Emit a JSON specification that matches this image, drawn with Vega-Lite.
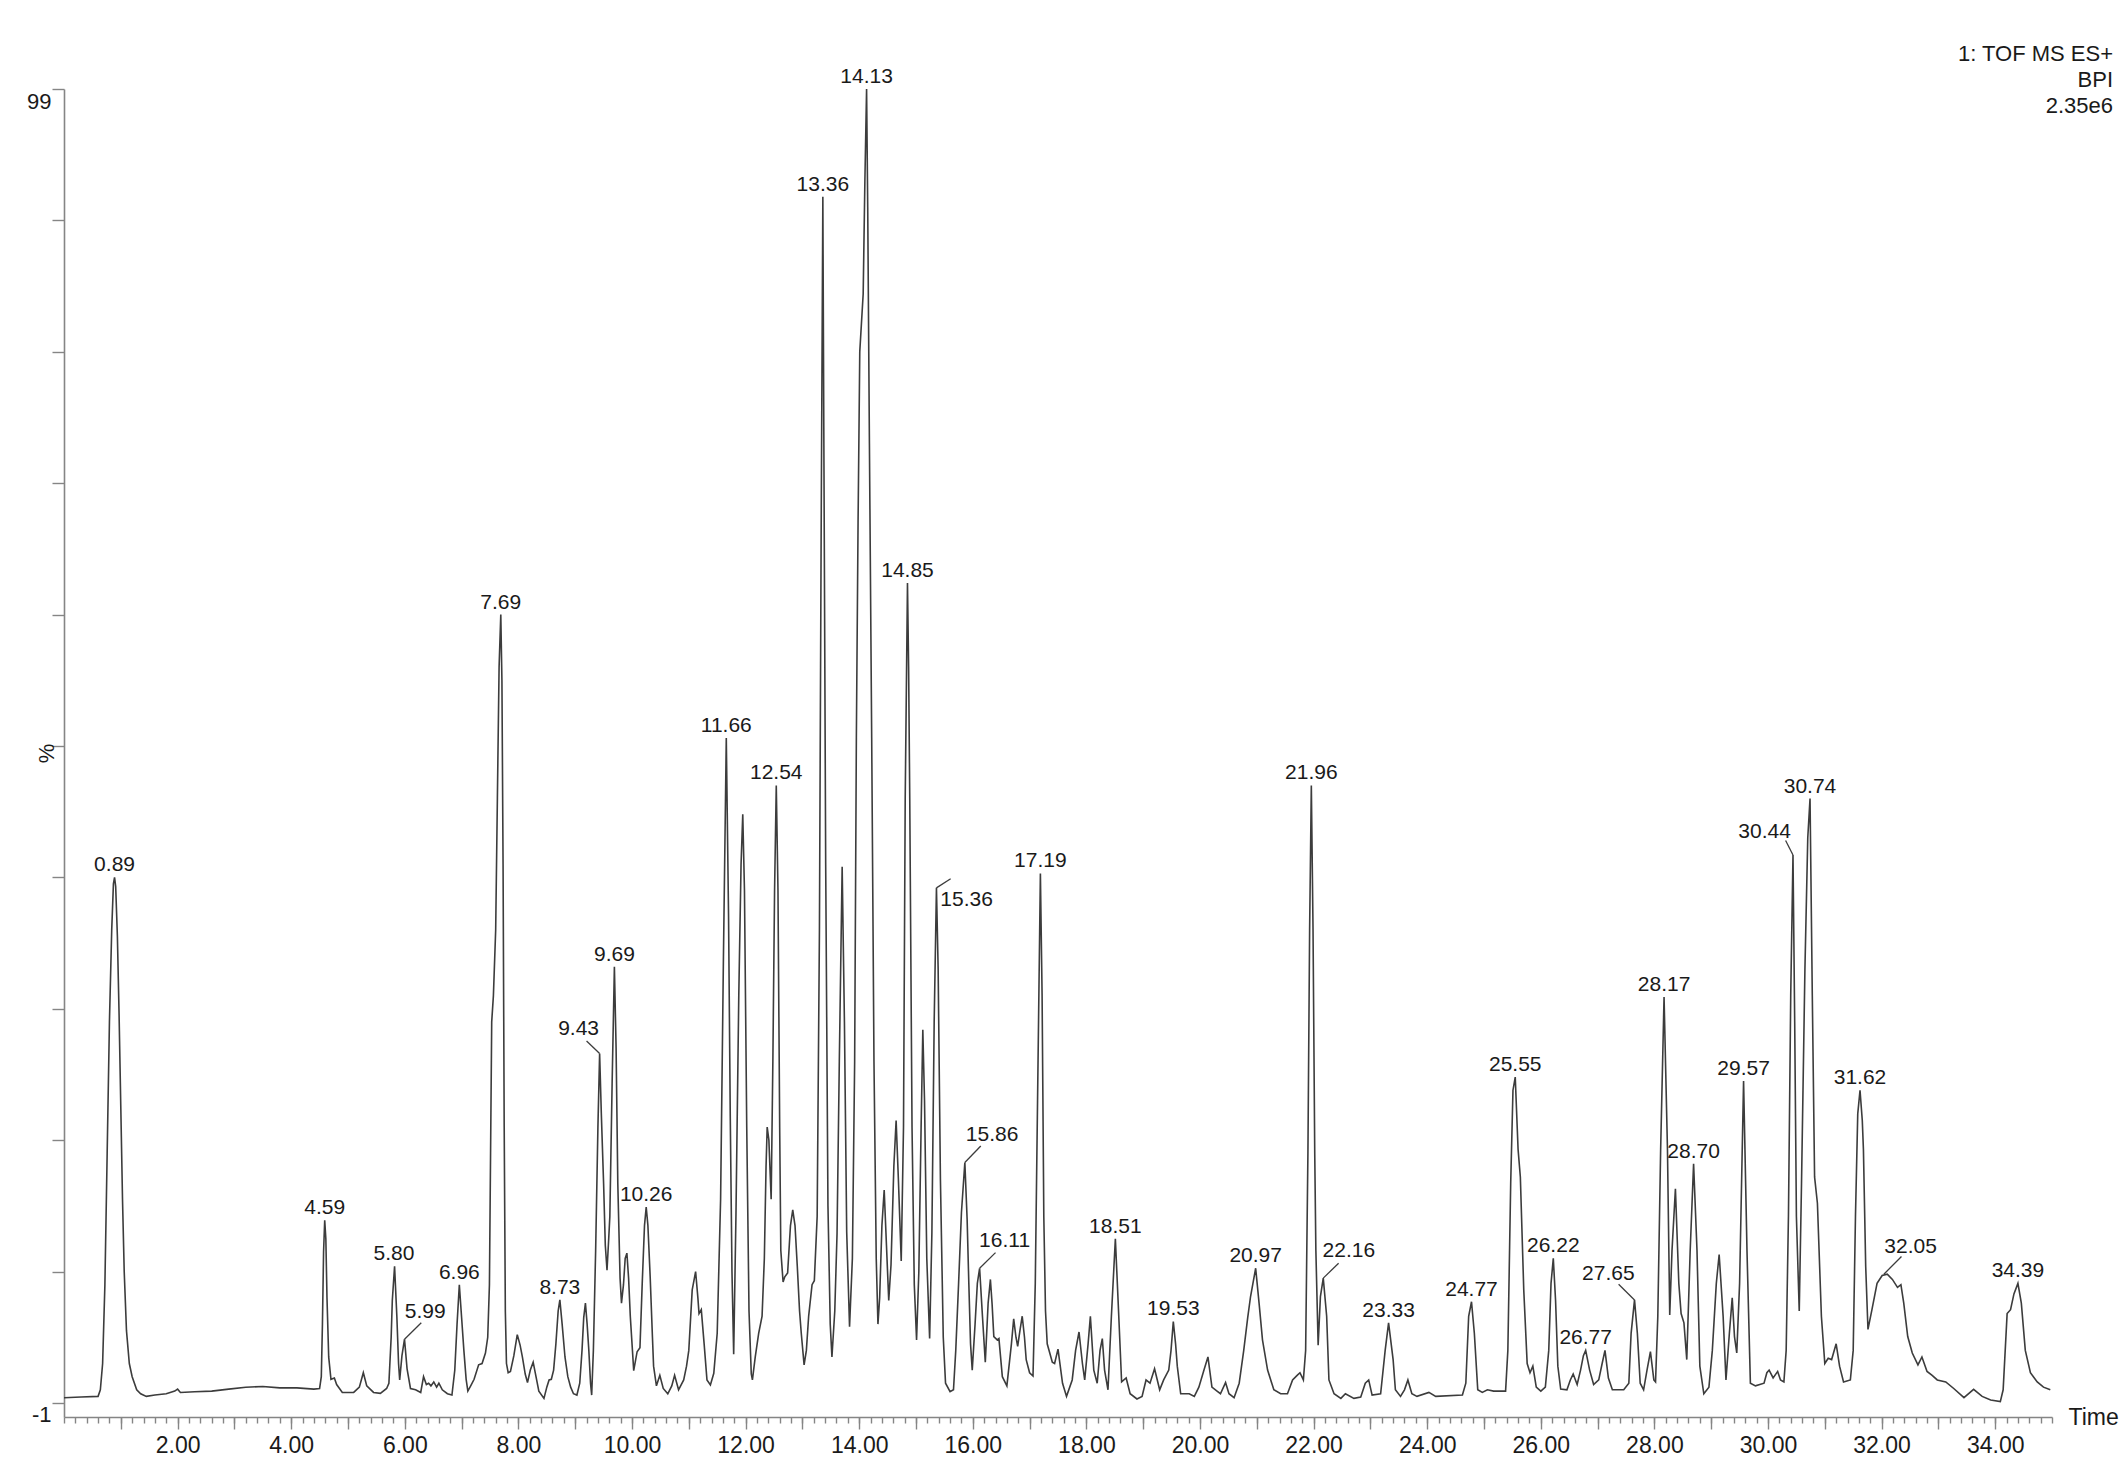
{
"$schema": "https://vega.github.io/schema/vega-lite/v6.json",
"width": 1988, "height": 1328,
"autosize": {"type": "none"},
"padding": {"left": 64, "top": 89, "right": 76, "bottom": 43},
"background": "white",
"config": {"view": {"stroke": null}, "font": "Liberation Sans"},
"title": {"text": ["1: TOF MS ES+", "BPI", "2.35e6"], "anchor": "end", "frame": "group", "orient": "top", "align": "right", "baseline": "top", "offset": 0, "dx": 61, "dy": 52, "fontSize": 22, "fontWeight": "normal", "lineHeight": 26, "font": "Liberation Sans", "color": "#1a1a1a"},
"datasets": {
"trace": [
{"t":0.00,"i":-0.6},{"t":0.30,"i":-0.55},{"t":0.60,"i":-0.5},{"t":0.64,"i":0.0},{"t":0.68,"i":2.0},{"t":0.72,"i":8.0},{"t":0.76,"i":18.0},{"t":0.80,"i":28.0},{"t":0.84,"i":35.0},{"t":0.87,"i":38.5},{"t":0.89,"i":39.0},{"t":0.91,"i":38.3},{"t":0.94,"i":34.5},{"t":0.97,"i":28.5},{"t":1.00,"i":21.5},{"t":1.03,"i":14.5},{"t":1.06,"i":9.0},{"t":1.10,"i":4.5},{"t":1.15,"i":2.0},{"t":1.20,"i":1.0},{"t":1.28,"i":0.0},{"t":1.35,"i":-0.3},{"t":1.45,"i":-0.5},{"t":1.60,"i":-0.4},{"t":1.80,"i":-0.3},{"t":1.95,"i":-0.1},{"t":2.00,"i":0.05},{"t":2.05,"i":-0.2},{"t":2.30,"i":-0.15},{"t":2.60,"i":-0.1},{"t":2.90,"i":0.05},{"t":3.20,"i":0.2},{"t":3.50,"i":0.25},{"t":3.80,"i":0.15},{"t":4.10,"i":0.15},{"t":4.40,"i":0.05},{"t":4.50,"i":0.1},
{"t":4.53,"i":1.0},{"t":4.55,"i":5.0},{"t":4.57,"i":10.5},{"t":4.59,"i":12.9},{"t":4.61,"i":11.5},{"t":4.63,"i":7.0},{"t":4.66,"i":2.5},{"t":4.70,"i":0.8},{"t":4.76,"i":0.9},{"t":4.80,"i":0.4},{"t":4.90,"i":-0.2},{"t":5.10,"i":-0.2},{"t":5.20,"i":0.2},{"t":5.27,"i":1.3},{"t":5.33,"i":0.3},{"t":5.45,"i":-0.2},{"t":5.57,"i":-0.27},{"t":5.68,"i":0.1},{"t":5.72,"i":0.5},{"t":5.76,"i":4.0},{"t":5.78,"i":6.8},{"t":5.82,"i":9.4},{"t":5.86,"i":5.6},{"t":5.89,"i":2.0},{"t":5.91,"i":0.75},{"t":5.95,"i":2.6},{"t":5.995,"i":3.85},{"t":6.04,"i":1.6},{"t":6.10,"i":0.1},{"t":6.19,"i":0.0},{"t":6.28,"i":-0.2},{"t":6.33,"i":1.0},{"t":6.38,"i":0.4},{"t":6.42,"i":0.5},{"t":6.46,"i":0.3},{"t":6.51,"i":0.6},{"t":6.56,"i":0.2},{"t":6.60,"i":0.5},{"t":6.66,"i":0.0},{"t":6.75,"i":-0.3},{"t":6.83,"i":-0.4},{"t":6.88,"i":1.5},{"t":6.92,"i":5.0},{"t":6.96,"i":8.0},{"t":7.00,"i":5.5},{"t":7.04,"i":3.0},{"t":7.08,"i":0.8},{"t":7.11,"i":-0.1},{"t":7.16,"i":0.3},{"t":7.22,"i":0.8},{"t":7.30,"i":1.9},{"t":7.36,"i":2.0},{"t":7.42,"i":2.8},{"t":7.46,"i":4.0},{"t":7.49,"i":8.0},{"t":7.51,"i":18.0},{"t":7.53,"i":28.0},{"t":7.56,"i":30.0},{"t":7.60,"i":35.0},{"t":7.63,"i":45.0},{"t":7.66,"i":55.0},{"t":7.69,"i":59.0},{"t":7.71,"i":54.0},{"t":7.73,"i":40.0},{"t":7.75,"i":20.0},{"t":7.77,"i":6.0},{"t":7.79,"i":2.0},{"t":7.82,"i":1.3},{"t":7.86,"i":1.4},{"t":7.92,"i":2.6},{"t":7.98,"i":4.2},{"t":8.03,"i":3.4},{"t":8.07,"i":2.5},{"t":8.12,"i":1.2},{"t":8.16,"i":0.55},{"t":8.21,"i":1.5},{"t":8.26,"i":2.1},{"t":8.31,"i":1.0},{"t":8.36,"i":-0.1},{"t":8.45,"i":-0.65},{"t":8.50,"i":0.2},{"t":8.54,"i":0.75},{"t":8.58,"i":0.8},{"t":8.62,"i":1.5},{"t":8.66,"i":3.5},{"t":8.70,"i":6.0},{"t":8.73,"i":6.84},{"t":8.77,"i":5.0},{"t":8.82,"i":2.5},{"t":8.87,"i":1.0},{"t":8.92,"i":0.2},{"t":8.97,"i":-0.3},{"t":9.03,"i":-0.4},{"t":9.08,"i":0.5},{"t":9.12,"i":3.0},{"t":9.15,"i":5.5},{"t":9.18,"i":6.6},{"t":9.21,"i":5.0},{"t":9.24,"i":3.0},{"t":9.27,"i":0.5},{"t":9.29,"i":-0.4},{"t":9.32,"i":3.0},{"t":9.36,"i":10.6},{"t":9.40,"i":20.0},{"t":9.43,"i":25.6},{"t":9.46,"i":21.0},{"t":9.50,"i":15.7},{"t":9.53,"i":11.0},{"t":9.56,"i":9.1},{"t":9.59,"i":11.5},{"t":9.61,"i":13.2},{"t":9.65,"i":23.3},{"t":9.69,"i":32.2},{"t":9.72,"i":26.0},{"t":9.75,"i":15.7},{"t":9.79,"i":8.5},{"t":9.815,"i":6.6},{"t":9.85,"i":8.0},{"t":9.88,"i":10.0},{"t":9.91,"i":10.4},{"t":9.94,"i":8.5},{"t":9.97,"i":5.6},{"t":10.03,"i":1.46},{"t":10.09,"i":2.9},{"t":10.14,"i":3.2},{"t":10.18,"i":8.1},{"t":10.22,"i":12.5},{"t":10.25,"i":13.9},{"t":10.28,"i":12.5},{"t":10.32,"i":8.6},{"t":10.36,"i":4.0},{"t":10.38,"i":1.8},{"t":10.43,"i":0.3},{"t":10.49,"i":1.1},{"t":10.55,"i":0.1},{"t":10.63,"i":-0.3},{"t":10.70,"i":0.3},{"t":10.75,"i":1.1},{"t":10.82,"i":0.0},{"t":10.91,"i":0.75},{"t":10.96,"i":1.8},{"t":11.00,"i":3.0},{"t":11.06,"i":7.6},{"t":11.12,"i":9.0},{"t":11.16,"i":7.0},{"t":11.18,"i":5.8},{"t":11.22,"i":6.1},{"t":11.27,"i":3.5},{"t":11.32,"i":0.75},{"t":11.38,"i":0.37},{"t":11.44,"i":1.26},{"t":11.50,"i":4.3},{"t":11.56,"i":14.5},{"t":11.61,"i":33.0},{"t":11.66,"i":49.6},{"t":11.70,"i":36.0},{"t":11.73,"i":20.8},{"t":11.76,"i":9.0},{"t":11.79,"i":2.7},{"t":11.83,"i":13.2},{"t":11.88,"i":30.0},{"t":11.92,"i":40.0},{"t":11.95,"i":43.8},{"t":11.98,"i":38.0},{"t":12.02,"i":20.0},{"t":12.06,"i":6.0},{"t":12.10,"i":1.2},{"t":12.12,"i":0.75},{"t":12.17,"i":2.5},{"t":12.23,"i":4.3},{"t":12.29,"i":5.6},{"t":12.33,"i":10.0},{"t":12.36,"i":17.0},{"t":12.38,"i":20.0},{"t":12.41,"i":19.0},{"t":12.45,"i":14.5},{"t":12.48,"i":25.0},{"t":12.51,"i":38.0},{"t":12.54,"i":46.0},{"t":12.57,"i":38.0},{"t":12.60,"i":20.0},{"t":12.62,"i":10.6},{"t":12.66,"i":8.2},{"t":12.69,"i":8.6},{"t":12.74,"i":8.9},{"t":12.79,"i":12.5},{"t":12.83,"i":13.7},{"t":12.87,"i":12.5},{"t":12.91,"i":9.4},{"t":12.95,"i":6.0},{"t":12.98,"i":4.3},{"t":13.03,"i":1.9},{"t":13.07,"i":3.0},{"t":13.11,"i":5.6},{"t":13.17,"i":8.0},{"t":13.21,"i":8.3},{"t":13.26,"i":13.2},{"t":13.30,"i":35.0},{"t":13.33,"i":65.0},{"t":13.36,"i":90.8},{"t":13.38,"i":70.0},{"t":13.41,"i":40.0},{"t":13.45,"i":14.0},{"t":13.49,"i":5.0},{"t":13.52,"i":2.5},{"t":13.57,"i":6.0},{"t":13.61,"i":11.9},{"t":13.65,"i":25.0},{"t":13.70,"i":39.8},{"t":13.74,"i":28.0},{"t":13.78,"i":12.0},{"t":13.83,"i":4.8},{"t":13.88,"i":10.0},{"t":13.92,"i":25.0},{"t":13.95,"i":49.6},{"t":13.98,"i":66.0},{"t":14.01,"i":79.0},{"t":14.07,"i":83.4},{"t":14.10,"i":92.0},{"t":14.13,"i":99.0},{"t":14.15,"i":90.0},{"t":14.18,"i":72.0},{"t":14.22,"i":49.6},{"t":14.26,"i":25.0},{"t":14.30,"i":10.0},{"t":14.33,"i":5.0},{"t":14.36,"i":7.0},{"t":14.40,"i":12.5},{"t":14.44,"i":15.2},{"t":14.48,"i":11.0},{"t":14.52,"i":6.8},{"t":14.56,"i":9.5},{"t":14.61,"i":17.0},{"t":14.65,"i":20.5},{"t":14.69,"i":16.0},{"t":14.74,"i":9.8},{"t":14.78,"i":20.0},{"t":14.81,"i":45.0},{"t":14.85,"i":61.4},{"t":14.87,"i":55.0},{"t":14.89,"i":45.0},{"t":14.93,"i":20.0},{"t":14.97,"i":8.0},{"t":15.01,"i":3.8},{"t":15.05,"i":9.0},{"t":15.09,"i":20.0},{"t":15.12,"i":27.4},{"t":15.15,"i":22.0},{"t":15.19,"i":10.0},{"t":15.24,"i":3.9},{"t":15.28,"i":12.0},{"t":15.32,"i":28.0},{"t":15.36,"i":38.2},{"t":15.39,"i":32.0},{"t":15.43,"i":16.0},{"t":15.48,"i":4.0},{"t":15.52,"i":0.5},{"t":15.60,"i":-0.14},{"t":15.66,"i":0.0},{"t":15.70,"i":3.0},{"t":15.75,"i":8.1},{"t":15.80,"i":13.5},{"t":15.86,"i":17.3},{"t":15.90,"i":13.0},{"t":15.93,"i":8.1},{"t":15.96,"i":3.5},{"t":15.99,"i":1.5},{"t":16.04,"i":5.0},{"t":16.08,"i":8.1},{"t":16.12,"i":9.25},{"t":16.17,"i":5.6},{"t":16.22,"i":2.1},{"t":16.27,"i":6.6},{"t":16.31,"i":8.4},{"t":16.34,"i":6.5},{"t":16.37,"i":4.05},{"t":16.43,"i":3.8},{"t":16.46,"i":3.9},{"t":16.52,"i":1.0},{"t":16.60,"i":0.3},{"t":16.68,"i":3.5},{"t":16.72,"i":5.4},{"t":16.76,"i":4.0},{"t":16.79,"i":3.3},{"t":16.83,"i":4.5},{"t":16.87,"i":5.6},{"t":16.91,"i":4.0},{"t":16.94,"i":2.3},{"t":17.00,"i":1.3},{"t":17.06,"i":1.05},{"t":17.10,"i":8.1},{"t":17.14,"i":22.0},{"t":17.19,"i":39.3},{"t":17.22,"i":30.0},{"t":17.25,"i":13.2},{"t":17.28,"i":6.0},{"t":17.31,"i":3.5},{"t":17.40,"i":2.1},{"t":17.44,"i":2.0},{"t":17.50,"i":3.1},{"t":17.58,"i":0.5},{"t":17.65,"i":-0.5},{"t":17.75,"i":0.75},{"t":17.81,"i":3.0},{"t":17.87,"i":4.4},{"t":17.93,"i":2.0},{"t":17.97,"i":0.75},{"t":18.03,"i":3.5},{"t":18.07,"i":5.6},{"t":18.13,"i":1.5},{"t":18.19,"i":0.5},{"t":18.24,"i":3.0},{"t":18.28,"i":3.9},{"t":18.32,"i":1.5},{"t":18.38,"i":0.0},{"t":18.44,"i":5.6},{"t":18.51,"i":11.5},{"t":18.57,"i":5.6},{"t":18.62,"i":0.6},{"t":18.70,"i":0.9},{"t":18.77,"i":-0.3},{"t":18.89,"i":-0.7},{"t":18.98,"i":-0.5},{"t":19.05,"i":0.75},{"t":19.12,"i":0.5},{"t":19.20,"i":1.6},{"t":19.29,"i":0.0},{"t":19.36,"i":0.75},{"t":19.45,"i":1.5},{"t":19.49,"i":3.0},{"t":19.53,"i":5.2},{"t":19.57,"i":3.5},{"t":19.60,"i":1.8},{"t":19.66,"i":-0.3},{"t":19.81,"i":-0.3},{"t":19.90,"i":-0.5},{"t":19.98,"i":0.2},{"t":20.07,"i":1.5},{"t":20.14,"i":2.5},{"t":20.21,"i":0.2},{"t":20.30,"i":-0.1},{"t":20.36,"i":-0.3},{"t":20.45,"i":0.55},{"t":20.51,"i":-0.3},{"t":20.60,"i":-0.6},{"t":20.69,"i":0.5},{"t":20.77,"i":3.0},{"t":20.84,"i":5.5},{"t":20.89,"i":7.1},{"t":20.98,"i":9.25},{"t":21.04,"i":6.6},{"t":21.10,"i":3.8},{"t":21.19,"i":1.5},{"t":21.30,"i":0.0},{"t":21.42,"i":-0.3},{"t":21.54,"i":-0.3},{"t":21.63,"i":0.75},{"t":21.71,"i":1.1},{"t":21.76,"i":1.3},{"t":21.82,"i":0.75},{"t":21.86,"i":3.0},{"t":21.90,"i":18.0},{"t":21.93,"i":35.0},{"t":21.96,"i":46.0},{"t":21.99,"i":35.0},{"t":22.02,"i":18.0},{"t":22.04,"i":10.6},{"t":22.08,"i":3.4},{"t":22.12,"i":7.1},{"t":22.17,"i":8.5},{"t":22.23,"i":5.6},{"t":22.27,"i":0.75},{"t":22.36,"i":-0.3},{"t":22.48,"i":-0.65},{"t":22.56,"i":-0.3},{"t":22.71,"i":-0.65},{"t":22.83,"i":-0.55},{"t":22.91,"i":0.5},{"t":22.97,"i":0.75},{"t":23.03,"i":-0.4},{"t":23.18,"i":-0.3},{"t":23.26,"i":3.0},{"t":23.32,"i":5.1},{"t":23.40,"i":2.3},{"t":23.44,"i":0.0},{"t":23.53,"i":-0.5},{"t":23.60,"i":0.0},{"t":23.66,"i":0.75},{"t":23.73,"i":-0.3},{"t":23.82,"i":-0.5},{"t":24.03,"i":-0.2},{"t":24.15,"i":-0.5},{"t":24.62,"i":-0.4},{"t":24.68,"i":0.5},{"t":24.73,"i":5.6},{"t":24.78,"i":6.7},{"t":24.83,"i":4.3},{"t":24.89,"i":0.0},{"t":24.97,"i":-0.2},{"t":25.06,"i":0.0},{"t":25.17,"i":-0.1},{"t":25.38,"i":-0.1},{"t":25.42,"i":3.0},{"t":25.47,"i":15.7},{"t":25.51,"i":22.8},{"t":25.55,"i":23.8},{"t":25.60,"i":18.3},{"t":25.64,"i":16.2},{"t":25.70,"i":7.6},{"t":25.76,"i":2.0},{"t":25.81,"i":1.3},{"t":25.86,"i":1.8},{"t":25.92,"i":0.2},{"t":26.00,"i":-0.1},{"t":26.08,"i":0.2},{"t":26.14,"i":3.0},{"t":26.18,"i":8.1},{"t":26.22,"i":10.0},{"t":26.26,"i":6.8},{"t":26.30,"i":1.8},{"t":26.35,"i":0.05},{"t":26.46,"i":0.0},{"t":26.52,"i":0.75},{"t":26.57,"i":1.2},{"t":26.64,"i":0.4},{"t":26.70,"i":1.5},{"t":26.75,"i":2.6},{"t":26.79,"i":3.0},{"t":26.86,"i":1.5},{"t":26.93,"i":0.4},{"t":27.02,"i":0.75},{"t":27.08,"i":2.0},{"t":27.13,"i":3.0},{"t":27.19,"i":0.9},{"t":27.26,"i":0.0},{"t":27.46,"i":0.0},{"t":27.55,"i":0.5},{"t":27.59,"i":4.3},{"t":27.65,"i":6.84},{"t":27.70,"i":4.3},{"t":27.75,"i":0.5},{"t":27.81,"i":0.0},{"t":27.87,"i":1.5},{"t":27.93,"i":2.9},{"t":27.99,"i":0.75},{"t":28.02,"i":0.6},{"t":28.06,"i":5.6},{"t":28.11,"i":18.3},{"t":28.17,"i":29.9},{"t":28.23,"i":18.3},{"t":28.27,"i":5.7},{"t":28.31,"i":10.6},{"t":28.37,"i":15.3},{"t":28.43,"i":8.1},{"t":28.47,"i":5.8},{"t":28.52,"i":5.1},{"t":28.57,"i":2.3},{"t":28.63,"i":10.6},{"t":28.69,"i":17.2},{"t":28.75,"i":10.6},{"t":28.80,"i":1.8},{"t":28.87,"i":-0.3},{"t":28.96,"i":0.2},{"t":29.02,"i":3.0},{"t":29.09,"i":8.1},{"t":29.14,"i":10.3},{"t":29.21,"i":5.6},{"t":29.26,"i":0.75},{"t":29.32,"i":4.3},{"t":29.37,"i":7.0},{"t":29.41,"i":4.05},{"t":29.45,"i":2.8},{"t":29.50,"i":8.1},{"t":29.57,"i":23.5},{"t":29.63,"i":10.6},{"t":29.69,"i":0.5},{"t":29.78,"i":0.3},{"t":29.93,"i":0.5},{"t":29.98,"i":1.3},{"t":30.02,"i":1.5},{"t":30.09,"i":0.9},{"t":30.17,"i":1.4},{"t":30.22,"i":0.75},{"t":30.28,"i":0.6},{"t":30.32,"i":3.0},{"t":30.36,"i":13.2},{"t":30.40,"i":30.0},{"t":30.44,"i":40.7},{"t":30.47,"i":28.0},{"t":30.50,"i":13.2},{"t":30.55,"i":6.0},{"t":30.59,"i":15.7},{"t":30.65,"i":32.0},{"t":30.70,"i":42.0},{"t":30.74,"i":45.0},{"t":30.78,"i":30.0},{"t":30.82,"i":16.2},{"t":30.87,"i":14.2},{"t":30.94,"i":5.6},{"t":31.00,"i":2.0},{"t":31.06,"i":2.4},{"t":31.12,"i":2.3},{"t":31.20,"i":3.5},{"t":31.26,"i":1.8},{"t":31.33,"i":0.6},{"t":31.45,"i":0.75},{"t":31.50,"i":3.0},{"t":31.54,"i":13.2},{"t":31.58,"i":21.0},{"t":31.62,"i":22.8},{"t":31.66,"i":20.5},{"t":31.68,"i":18.3},{"t":31.72,"i":9.4},{"t":31.76,"i":4.6},{"t":31.83,"i":6.1},{"t":31.92,"i":8.1},{"t":32.01,"i":8.7},{"t":32.10,"i":8.8},{"t":32.19,"i":8.4},{"t":32.28,"i":7.8},{"t":32.34,"i":8.0},{"t":32.39,"i":6.6},{"t":32.46,"i":4.05},{"t":32.54,"i":2.8},{"t":32.64,"i":1.9},{"t":32.71,"i":2.5},{"t":32.80,"i":1.4},{"t":32.89,"i":1.1},{"t":32.98,"i":0.75},{"t":33.13,"i":0.6},{"t":33.27,"i":0.1},{"t":33.45,"i":-0.6},{"t":33.62,"i":0.04},{"t":33.77,"i":-0.5},{"t":33.92,"i":-0.77},{"t":34.09,"i":-0.9},{"t":34.14,"i":0.0},{"t":34.21,"i":5.8},{"t":34.27,"i":6.1},{"t":34.33,"i":7.3},{"t":34.40,"i":8.1},{"t":34.46,"i":6.6},{"t":34.53,"i":3.0},{"t":34.62,"i":1.3},{"t":34.74,"i":0.6},{"t":34.85,"i":0.2},{"t":34.97,"i":0.0}
],
"peaks": [
{"label":"0.89","t":0.89,"i":39.0,"lt":0.89,"li":39.0},
{"label":"4.59","t":4.59,"i":12.9,"lt":4.59,"li":12.9},
{"label":"5.80","t":5.81,"i":9.4,"lt":5.81,"li":9.4},
{"label":"5.99","t":5.995,"i":3.85,"lt":6.36,"li":5.0,"et":6.29,"ei":5.1},
{"label":"6.96","t":6.96,"i":8.0,"lt":6.96,"li":8.0},
{"label":"7.69","t":7.69,"i":59.0,"lt":7.69,"li":59.0},
{"label":"8.73","t":8.73,"i":6.84,"lt":8.73,"li":6.84},
{"label":"9.43","t":9.43,"i":25.6,"lt":9.06,"li":26.55,"et":9.2,"ei":26.55},
{"label":"9.69","t":9.69,"i":32.2,"lt":9.69,"li":32.2},
{"label":"10.26","t":10.25,"i":13.9,"lt":10.25,"li":13.9},
{"label":"11.66","t":11.66,"i":49.6,"lt":11.66,"li":49.6},
{"label":"12.54","t":12.54,"i":46.0,"lt":12.54,"li":46.0},
{"label":"13.36","t":13.36,"i":90.8,"lt":13.36,"li":90.8},
{"label":"14.13","t":14.13,"i":99.0,"lt":14.13,"li":99.0},
{"label":"14.85","t":14.85,"i":61.4,"lt":14.85,"li":61.4},
{"label":"15.36","t":15.36,"i":38.2,"lt":15.89,"li":36.4,"et":15.61,"ei":38.9},
{"label":"15.86","t":15.86,"i":17.3,"lt":16.34,"li":18.45,"et":16.14,"ei":18.56},
{"label":"16.11","t":16.12,"i":9.25,"lt":16.56,"li":10.4,"et":16.4,"ei":10.44},
{"label":"17.19","t":17.19,"i":39.3,"lt":17.19,"li":39.3},
{"label":"18.51","t":18.51,"i":11.5,"lt":18.51,"li":11.5},
{"label":"19.53","t":19.53,"i":5.2,"lt":19.53,"li":5.2},
{"label":"20.97","t":20.98,"i":9.25,"lt":20.98,"li":9.25},
{"label":"21.96","t":21.96,"i":46.0,"lt":21.96,"li":46.0},
{"label":"22.16","t":22.17,"i":8.5,"lt":22.62,"li":9.65,"et":22.44,"ei":9.63},
{"label":"23.33","t":23.32,"i":5.1,"lt":23.32,"li":5.1},
{"label":"24.77","t":24.78,"i":6.7,"lt":24.78,"li":6.7},
{"label":"25.55","t":25.55,"i":23.8,"lt":25.55,"li":23.8},
{"label":"26.22","t":26.22,"i":10.0,"lt":26.22,"li":10.0},
{"label":"26.77","t":26.79,"i":3.0,"lt":26.79,"li":3.0},
{"label":"27.65","t":27.65,"i":6.84,"lt":27.19,"li":7.9,"et":27.37,"ei":8.03},
{"label":"28.17","t":28.17,"i":29.9,"lt":28.17,"li":29.9},
{"label":"28.70","t":28.69,"i":17.2,"lt":28.69,"li":17.2},
{"label":"29.57","t":29.57,"i":23.5,"lt":29.57,"li":23.5},
{"label":"30.44","t":30.44,"i":40.7,"lt":29.94,"li":41.55,"et":30.31,"ei":41.8},
{"label":"30.74","t":30.74,"i":45.0,"lt":30.74,"li":45.0},
{"label":"31.62","t":31.62,"i":22.8,"lt":31.62,"li":22.8},
{"label":"32.05","t":32.04,"i":8.8,"lt":32.51,"li":9.95,"et":32.35,"ei":10.14},
{"label":"34.39","t":34.4,"i":8.1,"lt":34.4,"li":8.1}
]
},
"layer": [
{
"data": {"name": "trace"},
"mark": {"type": "line", "color": "#3c3c3c", "strokeWidth": 1.6, "interpolate": "linear", "clip": true},
"encoding": {
"x": {"field": "t", "type": "quantitative", "scale": {"domain": [0, 35], "nice": false, "zero": false},
  "axis": {"orient": "bottom", "values": [1,2,3,4,5,6,7,8,9,10,11,12,13,14,15,16,17,18,19,20,21,22,23,24,25,26,27,28,29,30,31,32,33,34],
    "labelExpr": "datum.value % 2 == 0 ? format(datum.value, '.2f') : ''",
    "grid": false, "domain": true, "domainColor": "#858585", "domainWidth": 1.6, "ticks": true, "tickSize": 12, "tickColor": "#858585", "tickWidth": 1.4,
    "labelFontSize": 23, "labelFont": "Liberation Sans", "labelColor": "#1a1a1a", "labelPadding": 5, "labelOverlap": false, "labelFlush": false,
    "title": "Time", "titleFont": "Liberation Sans", "titleFontSize": 23, "titleFontWeight": "normal", "titleColor": "#1a1a1a", "titleX": 2004, "titleY": 0, "titleAlign": "left", "titleBaseline": "middle", "titleAngle": 0}},
"y": {"field": "i", "type": "quantitative", "scale": {"domain": [-2.07, 99], "nice": false, "zero": false},
  "axis": {"orient": "left", "values": [-1,9,19,29,39,49,59,69,79,89,99],
    "labelExpr": "datum.value == 99 ? '99' : (datum.value == -1 ? '-1' : '')",
    "grid": false, "domain": true, "domainColor": "#858585", "domainWidth": 1.6, "tickSize": 12, "tickColor": "#858585", "tickWidth": 1.4,
    "labelFontSize": 22, "labelFont": "Liberation Sans", "labelColor": "#1a1a1a", "labelBaseline": "top", "labelAlign": "right", "labelPadding": 1, "labelOffset": 2, "labelOverlap": false, "labelFlush": false,
    "title": "%", "titleFont": "Liberation Sans", "titleFontSize": 22, "titleFontWeight": "normal", "titleColor": "#1a1a1a", "titleAngle": -90, "titleX": -18, "titleY": 664, "titleAlign": "center", "titleBaseline": "middle"}}
}
},
{
"data": {"name": "peaks"},
"transform": [{"filter": "isValid(datum.et)"}],
"mark": {"type": "rule", "color": "#3c3c3c", "strokeWidth": 1.3},
"encoding": {
"x": {"field": "t", "type": "quantitative", "scale": {"domain": [0, 35], "nice": false, "zero": false},
  "axis": {"orient": "bottom", "tickCount": 175, "labels": false, "domain": false, "grid": false, "ticks": true, "tickSize": 6, "tickColor": "#858585", "tickWidth": 1.4, "title": null}},
"y": {"field": "i", "type": "quantitative", "scale": {"domain": [-2.07, 99], "nice": false, "zero": false}, "axis": null},
"x2": {"field": "et"},
"y2": {"field": "ei"}
}
},
{
"data": {"name": "peaks"},
"mark": {"type": "text", "font": "Liberation Sans", "fontSize": 21, "color": "#1a1a1a", "align": "center", "baseline": "alphabetic", "dy": -6},
"encoding": {
"x": {"field": "lt", "type": "quantitative", "scale": {"domain": [0, 35], "nice": false, "zero": false}, "axis": null},
"y": {"field": "li", "type": "quantitative", "scale": {"domain": [-2.07, 99], "nice": false, "zero": false}, "axis": null},
"text": {"field": "label"}
}
}
],
"resolve": {"axis": {"x": "independent", "y": "independent"}}
}
